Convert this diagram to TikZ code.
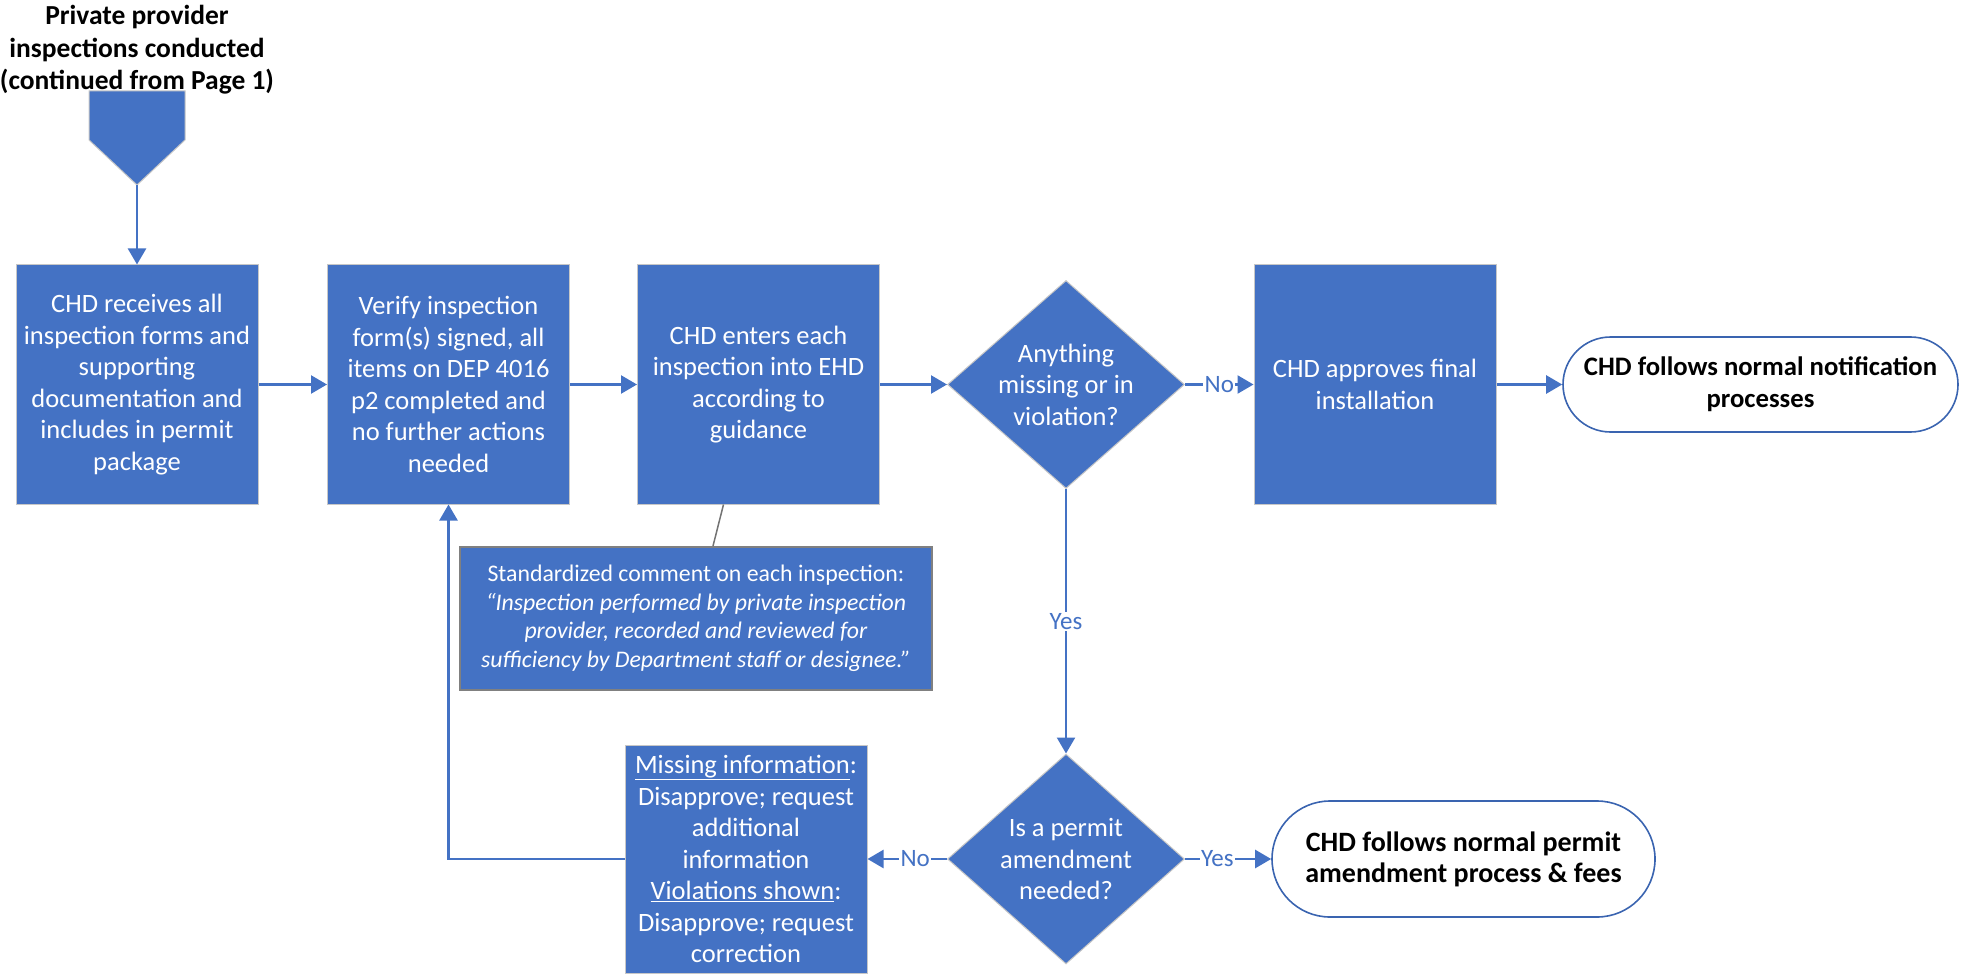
\documentclass[tikz,border=0pt]{standalone}
\usepackage{fontspec}
\setmainfont{Carlito}
\usetikzlibrary{shapes.geometric,shapes.misc,arrows.meta}
\definecolor{blu}{HTML}{4472C4}
\definecolor{tblu}{HTML}{3A64B0}
\begin{document}
\begin{tikzpicture}[x=1pt,y=-1pt,
  font=\fontsize{26.5}{31.5}\selectfont,
  proc/.style={rectangle, fill=blu, draw=black!22, line width=1pt, text=white, minimum width=242pt, minimum height=239pt, align=center, inner sep=0pt},
  dec/.style={diamond, fill=blu, draw=black!22, line width=1pt, minimum width=237pt, minimum height=208pt, inner sep=0pt},
  dtext/.style={text=white, align=center},
  term/.style={rounded rectangle, fill=white, draw=tblu, line width=1.6pt, align=center, font=\fontsize{28}{31}\selectfont\bfseries, inner sep=0pt},
  arr/.style={draw=blu, line width=2.4pt, -{Triangle[length=16pt,width=18pt]}},
  lbl/.style={fill=white, text=blu, inner sep=1.5pt, font=\fontsize{25}{28}\selectfont}
]
\useasboundingbox (0,0) rectangle (1961,976);

% off-page connector
\node[font=\fontsize{27.5}{32.5}\selectfont\bfseries, align=center] (title) at (137,50) {Private provider\\inspections conducted\\(continued from Page 1)};
\fill[blu, draw=black!22, line width=1pt] (89,91) -- (185,91) -- (185,140) -- (137,185) -- (89,140) -- cycle;
\coordinate (offtip) at (137,185);

\node[proc] (b1) at (137,384.5) {CHD receives all\\inspection forms and\\supporting\\documentation and\\includes in permit\\package};
\node[proc] (b2) at (448.5,384.5) {Verify inspection\\form(s) signed, all\\items on DEP 4016\\p2 completed and\\no further actions\\needed};
\node[proc] (b3) at (758.5,384.5) {CHD enters each\\inspection into EHD\\according to\\guidance};
\node[dec, label={[dtext]center:Anything\\missing or in\\violation?}] (d1) at (1066,384.5) {};
\node[proc] (b4) at (1375,384.5) {CHD approves final\\installation};
\node[term, minimum width=395pt, minimum height=95pt, font=\fontsize{26.7}{31.7}\selectfont\bfseries] (t1) at (1760.5,384.5) {CHD follows normal notification\\processes};

\node[rectangle, fill=blu, draw=black!50, line width=2pt, text=white, align=center, minimum width=472pt, minimum height=143pt, inner sep=0pt, font=\fontsize{23.8}{28.5}\selectfont] (note) at (696,618.5) {Standardized comment on each inspection:\\\textit{“Inspection performed by private inspection}\\\textit{provider, recorded and reviewed for}\\\textit{sufficiency by Department staff or designee.”}};

\node[dec, minimum height=210pt, label={[dtext]center:Is a permit\\amendment\\needed?}] (d2) at (1066,859) {};
\node[proc, minimum height=228pt] (b5) at (746,859) {\underline{Missing information}:\\Disapprove; request\\additional\\information\\\underline{Violations shown}:\\Disapprove; request\\correction};
\node[term, minimum width=383pt, minimum height=116pt] (t2) at (1463.5,859) {CHD follows normal permit\\amendment process \& fees};

% connectors
\draw[arr] (offtip) -- (b1.north);
\draw[arr] (b1.east) -- (b2.west);
\draw[arr] (b2.east) -- (b3.west);
\draw[arr] (b3.east) -- (d1.west);
\draw[arr] (d1.east) -- node[lbl]{No} (b4.west);
\draw[arr] (b4.east) -- (t1.west);
\draw[arr] (d1.south) -- node[lbl]{Yes} (d2.north);
\draw[arr] (d2.west) -- node[lbl, pos=0.4]{No} (b5.east);
\draw[arr] (d2.east) -- node[lbl, pos=0.375]{Yes} (t2.west);
\draw[arr] (b5.west) -- (b5.west -| b2.south) -- (b2.south);
\draw[black!55, line width=1.5pt] ([xshift=-35pt]b3.south) -- ([xshift=17pt]note.north);
\end{tikzpicture}
\end{document}
